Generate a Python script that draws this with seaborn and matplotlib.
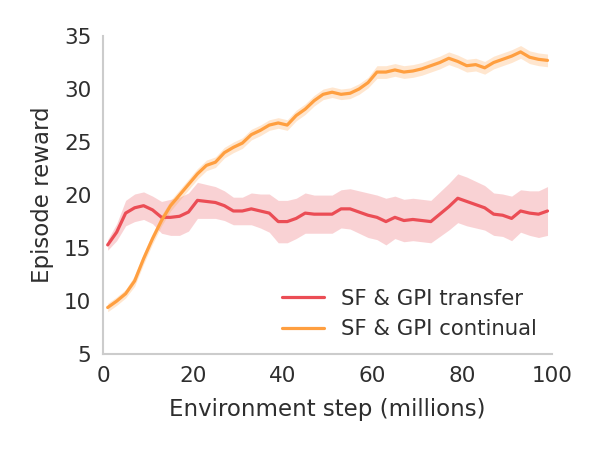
import numpy as np
import pandas as pd
import matplotlib
matplotlib.use("Agg")
import matplotlib.pyplot as plt
import seaborn as sns

sns.set_theme(style="white")
plt.rcParams['font.family'] = ['DejaVu Sans']

# environment steps (millions)
steps = list(range(1, 100, 2))

# SF & GPI transfer: mean and half-width of the shaded band
transfer_mean = [15.3, 16.5, 18.3, 18.8, 19.0, 18.6, 17.9, 17.9, 18.0, 18.4,
                 19.5, 19.4, 19.3, 19.0, 18.5, 18.5, 18.7, 18.5, 18.3, 17.5,
                 17.5, 17.8, 18.3, 18.2, 18.2, 18.2, 18.7, 18.7, 18.4, 18.1,
                 17.9, 17.5, 17.9, 17.6, 17.7, 17.6, 17.5, 18.2, 18.9, 19.7,
                 19.4, 19.1, 18.8, 18.2, 18.1, 17.8, 18.5, 18.3, 18.2, 18.5]
transfer_err = [0.5, 0.8, 1.2, 1.3, 1.3, 1.3, 1.5, 1.7, 1.8, 1.8,
                1.7, 1.6, 1.5, 1.4, 1.3, 1.3, 1.5, 1.6, 1.8, 2.0,
                2.0, 1.9, 1.9, 1.8, 1.8, 1.8, 1.8, 1.9, 2.0, 2.1,
                2.1, 2.2, 2.0, 2.0, 2.0, 2.0, 2.0, 2.1, 2.2, 2.3,
                2.3, 2.2, 2.1, 2.0, 2.0, 2.1, 2.0, 2.1, 2.2, 2.3]

# SF & GPI continual
continual_mean = [9.4, 10.0, 10.7, 11.9, 14.0, 15.9, 17.6, 19.0, 20.0, 21.0,
                  22.0, 22.8, 23.1, 24.0, 24.5, 24.9, 25.7, 26.1, 26.6, 26.8,
                  26.6, 27.5, 28.1, 28.9, 29.5, 29.7, 29.5, 29.6, 30.0, 30.6,
                  31.6, 31.6, 31.8, 31.6, 31.7, 31.9, 32.2, 32.5, 32.9, 32.6,
                  32.2, 32.3, 32.0, 32.5, 32.8, 33.1, 33.5, 33.0, 32.8, 32.7]
continual_err = [0.4, 0.4, 0.4, 0.5, 0.5, 0.5, 0.5, 0.5, 0.5, 0.5,
                 0.5, 0.5, 0.5, 0.5, 0.5, 0.5, 0.5, 0.5, 0.5, 0.5,
                 0.5, 0.5, 0.5, 0.5, 0.5, 0.5, 0.5, 0.5, 0.5, 0.5,
                 0.6, 0.6, 0.6, 0.6, 0.6, 0.6, 0.6, 0.6, 0.6, 0.6,
                 0.6, 0.6, 0.6, 0.6, 0.6, 0.6, 0.6, 0.6, 0.6, 0.6]

red = '#eb4d55'
orange = '#ff9f40'
text_col = '#2e2e2e'

fig = plt.figure(figsize=(6, 4.5), dpi=100)
ax = fig.add_axes([0.172, 0.213, 0.748, 0.707])

for label, mean, err, color in [
        ('SF & GPI transfer', transfer_mean, transfer_err, red),
        ('SF & GPI continual', continual_mean, continual_err, orange)]:
    df = pd.DataFrame({'step': steps, 'reward': mean})
    lo = np.array(mean) - np.array(err)
    hi = np.array(mean) + np.array(err)
    ax.fill_between(steps, lo, hi, color=color, alpha=0.25, linewidth=0)
    sns.lineplot(data=df, x='step', y='reward', color=color, linewidth=2.3,
                 label=label, ax=ax)

ax.set_xlim(0, 100)
ax.set_ylim(5, 35)
ax.set_xticks([0, 20, 40, 60, 80, 100])
ax.set_yticks([5, 10, 15, 20, 25, 30, 35])
ax.tick_params(labelsize=15.5, colors=text_col, length=0, pad=8.5)
ax.set_xlabel('Environment step (millions)', fontsize=16.5, color=text_col,
              labelpad=9)
ax.set_ylabel('Episode reward', fontsize=16.5, color=text_col, labelpad=7)

for side in ['top', 'right']:
    ax.spines[side].set_visible(False)
for side in ['left', 'bottom']:
    ax.spines[side].set_color('#cccccc')
    ax.spines[side].set_linewidth(1.5)

ax.legend(loc='lower right', frameon=False, fontsize=15.3, handlelength=2.0,
          labelcolor=text_col, borderaxespad=0.3)

plt.savefig('out.png', dpi=100)
